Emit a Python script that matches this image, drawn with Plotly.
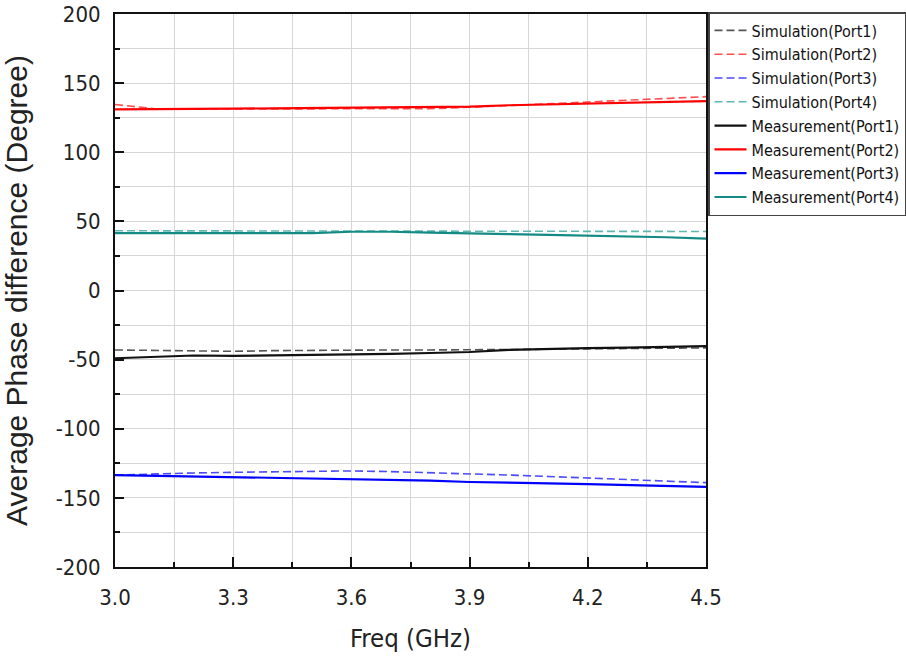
import plotly.graph_objects as go

freq = [3.0, 3.1, 3.2, 3.3, 3.4, 3.5, 3.6, 3.7, 3.8, 3.9, 4.0, 4.1, 4.2, 4.3, 4.4, 4.5]

sim_port1 = [-43.0, -43.5, -44.0, -44.0, -43.5, -43.2, -43.0, -43.0, -43.0, -43.0, -42.8, -42.5, -42.2, -42.0, -41.8, -41.5]
sim_port2 = [134.5, 131.5, 131.3, 131.3, 131.3, 131.3, 131.3, 131.3, 131.5, 132.5, 133.8, 135.0, 136.5, 137.8, 139.0, 140.2]
sim_port3 = [-133.5, -132.5, -132.0, -131.5, -131.0, -130.8, -130.5, -131.0, -131.7, -132.5, -133.5, -134.5, -135.5, -136.8, -138.0, -139.0]
sim_port4 = [43.2, 43.2, 43.2, 43.2, 43.2, 43.2, 43.0, 43.0, 42.8, 42.7, 42.7, 42.7, 42.7, 42.7, 42.7, 42.7]

meas_port1 = [-49.0, -48.0, -47.0, -47.3, -47.0, -46.5, -46.2, -45.8, -45.2, -44.5, -43.0, -42.2, -41.7, -41.3, -40.8, -40.2]
meas_port2 = [131.0, 131.0, 131.5, 131.5, 131.8, 132.0, 132.0, 132.2, 132.5, 133.0, 134.0, 134.5, 135.0, 135.5, 136.0, 137.0]
meas_port3 = [-133.5, -134.0, -134.5, -135.0, -135.5, -136.0, -136.3, -136.8, -137.5, -138.5, -139.2, -139.5, -140.0, -140.8, -141.5, -142.0]
meas_port4 = [41.5, 41.5, 41.5, 41.5, 41.5, 41.5, 42.5, 42.5, 41.8, 41.5, 40.8, 40.2, 39.7, 39.1, 38.5, 37.5]

x_ticks = [3.0, 3.3, 3.6, 3.9, 4.2, 4.5]
x_ticktext = ["3.0", "3.3", "3.6", "3.9", "4.2", "4.5"]
y_ticks = [-200, -150, -100, -50, 0, 50, 100, 150, 200]
y_ticktext = ["-200", "-150", "-100", "-50", "0", "50", "100", "150", "200"]

narrow = "Liberation Sans Narrow, Arial Narrow, DejaVu Sans Condensed, Liberation Sans, Arial, sans-serif"
regular = "Liberation Sans, Arial, sans-serif"

series = [
    ("Simulation(Port1)", sim_port1, "#555555", "dash", 1.6),
    ("Simulation(Port2)", sim_port2, "#ff5050", "dash", 1.6),
    ("Simulation(Port3)", sim_port3, "#4a4aff", "dash", 1.6),
    ("Simulation(Port4)", sim_port4, "#5fb8b0", "dash", 1.6),
    ("Measurement(Port1)", meas_port1, "#111111", "solid", 2.2),
    ("Measurement(Port2)", meas_port2, "#ff0000", "solid", 2.2),
    ("Measurement(Port3)", meas_port3, "#0000ff", "solid", 2.2),
    ("Measurement(Port4)", meas_port4, "#138a84", "solid", 2.2),
]

fig = go.Figure()
for name, vals, color, dash, w in series:
    fig.add_trace(go.Scatter(
        x=freq, y=vals, mode="lines", name=name,
        line=dict(color=color, width=w, dash="8px,4px" if dash == "dash" else "solid"),
    ))

fig.update_layout(
    width=906, height=663,
    margin=dict(l=115, r=200, t=14, b=96, autoexpand=False),
    plot_bgcolor="white", paper_bgcolor="white",
    font=dict(family=narrow, color="#222222"),
    legend=dict(
        x=1.0034, y=1.0036, xanchor="left", yanchor="top",
        bordercolor="#444444", borderwidth=1.5,
        font=dict(family=narrow, size=16, color="#111111"),
        itemwidth=32, tracegroupgap=0,
        bgcolor="white",
    ),
    showlegend=True,
)

fig.update_xaxes(
    range=[3.0, 4.5], tickvals=x_ticks, ticktext=x_ticktext,
    ticks="inside", ticklen=10, tickwidth=2, tickcolor="#111111",
    showline=True, linecolor="#111111", linewidth=2, mirror=True,
    showgrid=True, gridcolor="#d6d6d6", gridwidth=1,
    minor=dict(dtick=0.15, tick0=3.0, ticks="inside", ticklen=5, tickwidth=1.5,
               tickcolor="#111111", showgrid=True, gridcolor="#d6d6d6", gridwidth=1),
    tickfont=dict(family=narrow, size=22, color="#222222"),
    ticklabelstandoff=10, ticklabeloverflow="allow",
    zeroline=False, automargin=False,
    title=dict(text="Freq (GHz)", font=dict(family=narrow, size=25.5, color="#222222"), standoff=20),
)

fig.update_yaxes(
    range=[-200, 200], tickvals=y_ticks, ticktext=y_ticktext,
    ticks="inside", ticklen=9, tickwidth=2, tickcolor="#111111",
    showline=True, linecolor="#111111", linewidth=2, mirror=True,
    showgrid=True, gridcolor="#d6d6d6", gridwidth=1,
    minor=dict(dtick=25, tick0=0, ticks="inside", ticklen=5, tickwidth=1.5,
               tickcolor="#111111", showgrid=True, gridcolor="#d6d6d6", gridwidth=1),
    tickfont=dict(family=narrow, size=22, color="#222222"),
    ticklabelstandoff=8, ticklabeloverflow="allow",
    zeroline=False, automargin=False,
    title=dict(text="Average Phase difference (Degree)", font=dict(family=regular, size=30, color="#222222"), standoff=26),
)

# remove the browser's default 8px page margin so the figure fills the window
fig.write_html("out.html", config={"displayModeBar": False},
               post_script="document.body.style.margin='0';")
